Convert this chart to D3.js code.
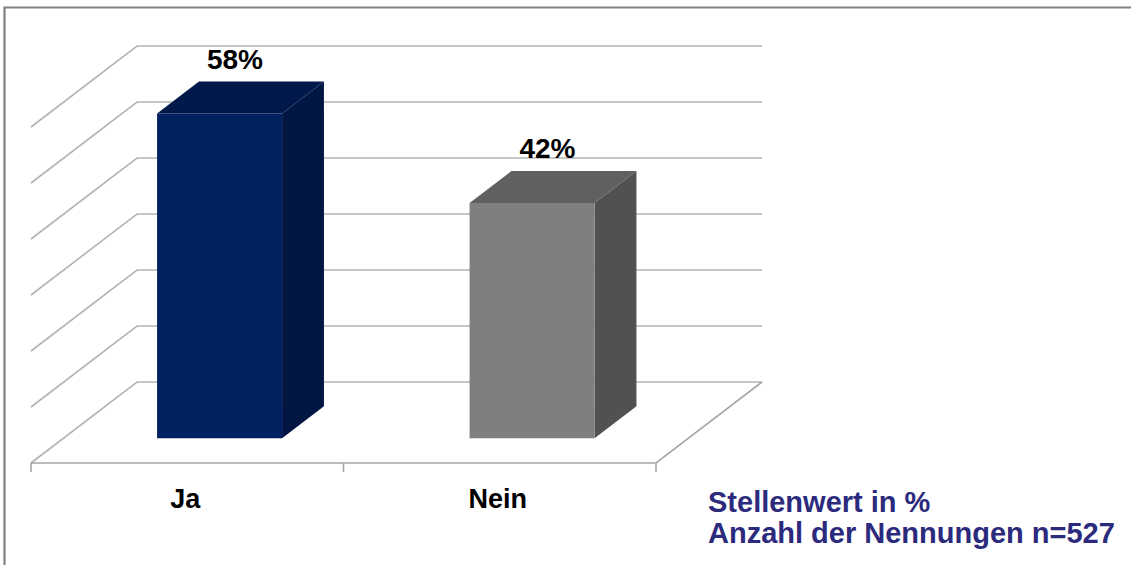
<!DOCTYPE html>
<html>
<head>
<meta charset="utf-8">
<script src="https://cdn.jsdelivr.net/npm/d3@7"></script>
<style>
  html, body { margin: 0; padding: 0; background: #fff; }
  svg { display: block; font-family: "Liberation Sans", Arial, sans-serif; }
</style>
</head>
<body>
<div id="canvas"></div>
<script>
// data
const categories = ["Ja", "Nein"];
const values = [58, 42];
const valueLabels = ["58%", "42%"];
const yTicks = [0, 10, 20, 30, 40, 50, 60];
const faceColors = [
  { front: "#012060", top: "#01194a", side: "#011643" },
  { front: "#7f7f7f", top: "#606060", side: "#515151" }
];
const noteLines = ["Stellenwert in %", "Anzahl der Nennungen n=527"];

const W = 1131, H = 565;
const svg = d3.select("#canvas").append("svg").attr("width", W).attr("height", H);

// front plane scales + depth vector for the fake 3d
const x = d3.scaleBand().domain(categories).range([31, 656]).paddingInner(0.6).paddingOuter(0.3);
const xAxis = d3.scaleBand().domain(categories).range([31, 656]);
const y = d3.scaleLinear().domain([0, 60]).range([463, 127]);
const depth = { dx: 106, dy: -81 };
const barZ = [0.305, 0.70];

function proj(px, v, z) {
  return [px + z * depth.dx, y(v) + z * depth.dy];
}
const line = d3.line();

// outer frame (top + left only are visible)
svg.append("path")
  .attr("d", line([[W, 7.5], [4.5, 7.5], [4.5, H]]))
  .attr("fill", "none").attr("stroke", "#808080").attr("stroke-width", 2.2);

const x0 = xAxis.range()[0], x1 = xAxis.range()[1];

// back wall gridlines + side wall diagonals
const grid = svg.append("g").attr("fill", "none").attr("stroke", "#b4b4b4").attr("stroke-width", 1.6);
yTicks.forEach(v => {
  grid.append("path").attr("d", line([proj(x0, v, 0), proj(x0, v, 1), proj(x1, v, 1)]));
});

// floor front edge + right edge + ticks
const floor = svg.append("g").attr("fill", "none").attr("stroke", "#a6a6a6").attr("stroke-width", 1.6);
floor.append("path").attr("d", line([proj(x0, 0, 0), proj(x1, 0, 0), proj(x1, 0, 1)]));
const tickXs = categories.map(c => xAxis(c)).concat([x1]);
tickXs.forEach(tx => {
  const p = proj(tx, 0, 0);
  floor.append("path").attr("d", line([p, [p[0], p[1] + 9]]));
});

// bars
categories.forEach((c, i) => {
  const bx0 = x(c), bx1 = x(c) + x.bandwidth();
  const v = values[i];
  const col = faceColors[i];
  const g = svg.append("g");
  // side face
  g.append("path")
    .attr("d", line([proj(bx1, 0, barZ[0]), proj(bx1, 0, barZ[1]), proj(bx1, v, barZ[1]), proj(bx1, v, barZ[0])]) + "Z")
    .attr("fill", col.side);
  // top face
  g.append("path")
    .attr("d", line([proj(bx0, v, barZ[0]), proj(bx0, v, barZ[1]), proj(bx1, v, barZ[1]), proj(bx1, v, barZ[0])]) + "Z")
    .attr("fill", col.top);
  // front face
  g.append("path")
    .attr("d", line([proj(bx0, 0, barZ[0]), proj(bx1, 0, barZ[0]), proj(bx1, v, barZ[0]), proj(bx0, v, barZ[0])]) + "Z")
    .attr("fill", col.front);

  // value label above the bar
  const lp = proj(bx0 + x.bandwidth() / 2, v, 0.45);
  svg.append("text")
    .attr("x", lp[0])
    .attr("y", proj(0, v, barZ[1])[1] - 13)
    .attr("text-anchor", "middle")
    .attr("font-size", 28).attr("font-weight", "bold").attr("fill", "#000")
    .text(valueLabels[i]);

  // category label
  const cp = proj(xAxis(c) + xAxis.bandwidth() / 2, 0, 0);
  svg.append("text")
    .attr("x", cp[0] - 2)
    .attr("y", cp[1] + 45)
    .attr("text-anchor", "middle")
    .attr("font-size", 27).attr("font-weight", "bold").attr("fill", "#000")
    .text(c);
});

// note bottom right
svg.append("g").selectAll("text")
  .data(noteLines)
  .join("text")
  .attr("x", 708)
  .attr("y", (d, i) => 512 + i * 31)
  .attr("font-size", 29).attr("font-weight", "bold").attr("fill", "#2b2a7c")
  .text(d => d);
</script>
</body>
</html>
